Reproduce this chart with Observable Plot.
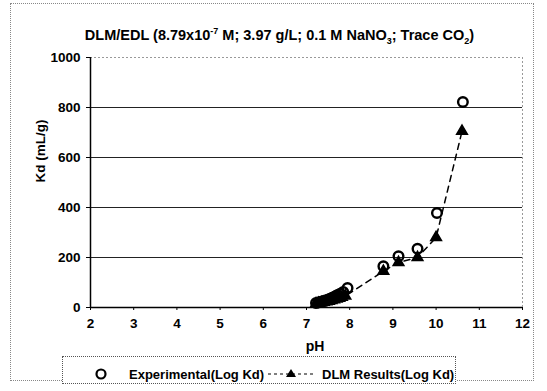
<!DOCTYPE html>
<html>
<head>
<meta charset="utf-8">
<script src="https://cdn.jsdelivr.net/npm/d3@7"></script>
<script src="https://cdn.jsdelivr.net/npm/@observablehq/plot@0.6"></script>
<style>
  html, body { margin: 0; padding: 0; background: #fff; }
  #wrap { position: relative; width: 547px; height: 391px; overflow: hidden; font-family: "Liberation Sans", Arial, sans-serif; }
  #frame { position: absolute; left: 10px; top: 3px; width: 524px; height: 378px; border: 1px dotted #888; box-sizing: border-box; }
  #title { position: absolute; left: 0; width: 547px; top: 26px; text-align: center; font-weight: bold; font-size: 14.5px; color: #000; padding-left: 12px; box-sizing: border-box; }
  #chart { position: absolute; left: 0; top: 0; }
  #xlabel { position: absolute; left: 290px; top: 338px; width: 50px; text-align: center; font-weight: bold; font-size: 14px; }
  #legend { position: absolute; left: 62px; top: 356px; width: 394px; height: 28px; border: 1px dotted #555; box-sizing: border-box; font-weight: bold; font-size: 13px; background: #fff; }
  #legend svg { position: absolute; left: 0; top: 0; }
</style>
</head>
<body>
<div id="wrap">
  <div id="frame"></div>
  <div id="chart"></div>
  <div id="title">DLM/EDL (8.79x10<sup style="font-size:9px">-7</sup> M; 3.97 g/L; 0.1 M NaNO<sub style="font-size:9px">3</sub>; Trace CO<sub style="font-size:9px">2</sub>)</div>
  <div id="xlabel">pH</div>
  <div id="legend"></div>
</div>
<script>
// Experimental (Log Kd)
const expPH = [7.22, 7.27, 7.32, 7.36, 7.40, 7.44, 7.48, 7.52, 7.56, 7.60, 7.64, 7.68, 7.72, 7.78, 7.85, 7.95, 8.78, 9.13, 9.57, 10.02, 10.62];
const expKd = [18, 20, 22, 24, 26, 28, 30, 33, 36, 39, 42, 46, 50, 55, 62, 78, 165, 205, 235, 378, 822];
// DLM Results (Log Kd)
const dlmPH = [7.22, 7.28, 7.34, 7.40, 7.46, 7.52, 7.58, 7.64, 7.70, 7.76, 7.82, 7.90, 8.78, 9.13, 9.57, 10.00, 10.60];
const dlmKd = [15, 17, 19, 21, 23, 25, 28, 31, 34, 37, 41, 46, 145, 180, 200, 280, 705];

const xTicks = [2, 3, 4, 5, 6, 7, 8, 9, 10, 11, 12];
const yTicks = [0, 200, 400, 600, 800, 1000];
const gridY = [200, 400, 600, 800];

const exp = expPH.map((p, i) => ({pH: p, kd: expKd[i]}));
const dlm = dlmPH.map((p, i) => ({pH: p, kd: dlmKd[i]}));

const chart = Plot.plot({
  width: 547,
  height: 340,
  marginTop: 57,
  marginLeft: 90,
  marginRight: 25,
  marginBottom: 33,
  style: {fontFamily: "Liberation Sans, Arial, sans-serif", fontSize: "13px", fontWeight: "bold", color: "#000", background: "transparent"},
  x: {domain: [2, 12], ticks: xTicks, label: null},
  y: {domain: [0, 1000], ticks: yTicks, label: null},
  marks: [
    Plot.ruleY(gridY, {stroke: "#222", strokeWidth: 1.2}),
    Plot.ruleY([1000], {stroke: "#999", strokeDasharray: "2,2"}),
    Plot.ruleX([12], {stroke: "#999", strokeDasharray: "2,2"}),
    Plot.axisX({ticks: xTicks, tickSize: 3, tickPadding: 8, fontSize: 13.5, fontWeight: "bold", label: null, tickFormat: d => String(d)}),
    Plot.axisY({ticks: yTicks, tickSize: 4, tickPadding: 6, fontSize: 13.5, fontWeight: "bold", label: null, tickFormat: d => String(d)}),
    Plot.ruleY([0], {stroke: "#000", strokeWidth: 1.5}),
    Plot.ruleX([2], {stroke: "#000", strokeWidth: 1.5}),
    Plot.line(dlm, {x: "pH", y: "kd", stroke: "#000", strokeWidth: 1.5, strokeDasharray: "6,5"}),
    Plot.dot(dlm, {x: "pH", y: "kd", symbol: "triangle", r: 4, fill: "#000", stroke: "#000"}),
    Plot.dot(exp, {x: "pH", y: "kd", symbol: "circle", r: 4.8, fill: "none", stroke: "#000", strokeWidth: 2.4}),
    Plot.text(["Kd (mL/g)"], {frameAnchor: "left", dx: -50, rotate: -90, fontSize: 13.5, fontWeight: "bold"})
  ]
});
document.getElementById("chart").appendChild(chart);

// Legend
const leg = document.getElementById("legend");
const ns = "http://www.w3.org/2000/svg";
const svg = document.createElementNS(ns, "svg");
svg.setAttribute("width", 394); svg.setAttribute("height", 28);
svg.innerHTML = `
  <circle cx="38" cy="17" r="4.5" fill="none" stroke="#000" stroke-width="2.2"/>
  <text x="66" y="22" font-size="13" font-weight="bold" font-family="Liberation Sans, Arial, sans-serif">Experimental(Log Kd)</text>
  <line x1="205" y1="17" x2="250" y2="17" stroke="#000" stroke-width="1.2" stroke-dasharray="3,3"/>
  <path d="M228,12 L233,20 L223,20 Z" fill="#000"/>
  <text x="259" y="22" font-size="13" font-weight="bold" font-family="Liberation Sans, Arial, sans-serif">DLM Results(Log Kd)</text>`;
leg.appendChild(svg);
</script>
</body>
</html>
